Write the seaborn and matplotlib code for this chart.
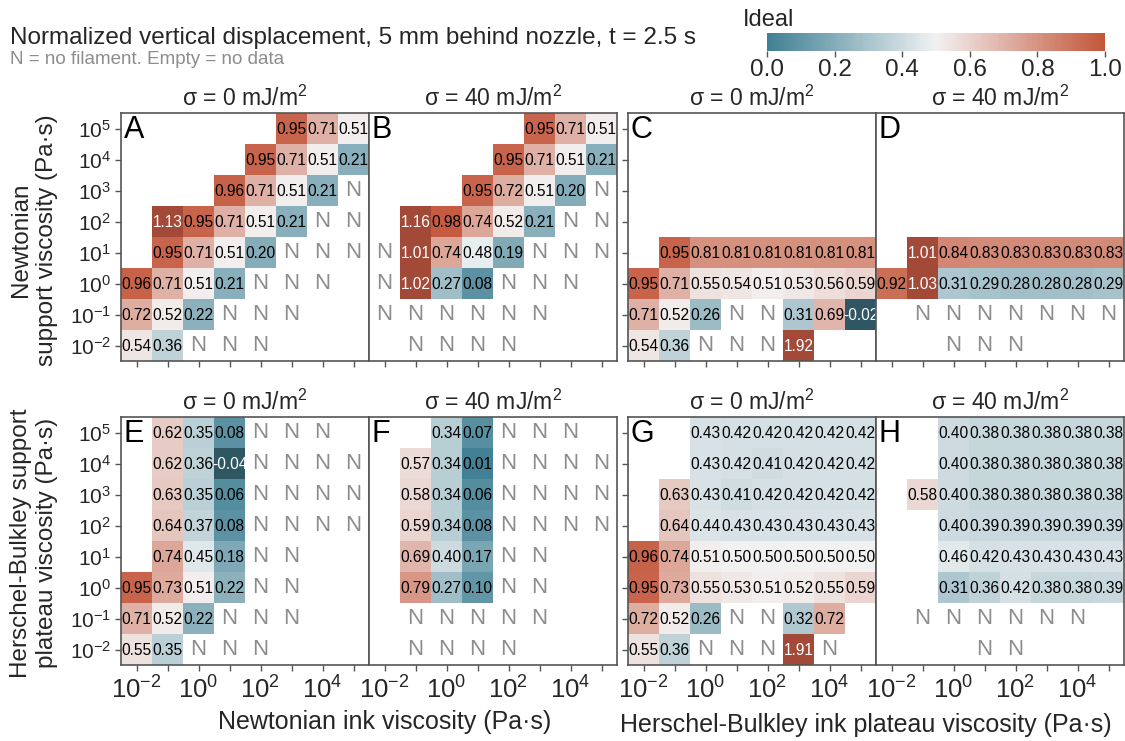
import numpy as np
import pandas as pd
import matplotlib
matplotlib.use("Agg")
import matplotlib.pyplot as plt
import seaborn as sns

sns.set_style("white")
plt.rcParams['font.family'] = ['Liberation Sans', 'DejaVu Sans']
plt.rcParams['mathtext.fontset'] = 'custom'
plt.rcParams['mathtext.rm'] = 'Liberation Sans'
plt.rcParams['mathtext.it'] = 'Liberation Sans:italic'
plt.rcParams['mathtext.bf'] = 'Liberation Sans:bold'

# _ = no data (empty cell), N = no filament
_ = None
N = "N"

# exponents of the viscosities (Pa·s); rows listed top (1e5) to bottom (1e-2)
support_visc = [5, 4, 3, 2, 1, 0, -1, -2]
ink_visc = [-2, -1, 0, 1, 2, 3, 4, 5]

# --- Newtonian support, Newtonian ink
panel_A = [
    [_, _, _, _, _, 0.95, 0.71, 0.51],
    [_, _, _, _, 0.95, 0.71, 0.51, 0.21],
    [_, _, _, 0.96, 0.71, 0.51, 0.21, N],
    [_, 1.13, 0.95, 0.71, 0.51, 0.21, N, N],
    [_, 0.95, 0.71, 0.51, 0.20, N, N, N],
    [0.96, 0.71, 0.51, 0.21, N, N, N, _],
    [0.72, 0.52, 0.22, N, N, N, _, _],
    [0.54, 0.36, N, N, N, _, _, _],
]
panel_B = [
    [_, _, _, _, _, 0.95, 0.71, 0.51],
    [_, _, _, _, 0.95, 0.71, 0.51, 0.21],
    [_, _, _, 0.95, 0.72, 0.51, 0.20, N],
    [_, 1.16, 0.98, 0.74, 0.52, 0.21, N, N],
    [N, 1.01, 0.74, 0.48, 0.19, N, N, N],
    [N, 1.02, 0.27, 0.08, N, N, N, _],
    [N, N, N, N, N, N, _, _],
    [_, N, N, N, N, _, _, _],
]
# --- Newtonian support, Herschel-Bulkley ink
panel_C = [
    [_, _, _, _, _, _, _, _],
    [_, _, _, _, _, _, _, _],
    [_, _, _, _, _, _, _, _],
    [_, _, _, _, _, _, _, _],
    [_, 0.95, 0.81, 0.81, 0.81, 0.81, 0.81, 0.81],
    [0.95, 0.71, 0.55, 0.54, 0.51, 0.53, 0.56, 0.59],
    [0.71, 0.52, 0.26, N, N, 0.31, 0.69, -0.02],
    [0.54, 0.36, N, N, N, 1.92, _, _],
]
panel_D = [
    [_, _, _, _, _, _, _, _],
    [_, _, _, _, _, _, _, _],
    [_, _, _, _, _, _, _, _],
    [_, _, _, _, _, _, _, _],
    [_, 1.01, 0.84, 0.83, 0.83, 0.83, 0.83, 0.83],
    [0.92, 1.03, 0.31, 0.29, 0.28, 0.28, 0.28, 0.29],
    [_, N, N, N, N, N, N, N],
    [_, _, N, N, N, _, _, _],
]
# --- Herschel-Bulkley support, Newtonian ink
panel_E = [
    [_, 0.62, 0.35, 0.08, N, N, N, _],
    [_, 0.62, 0.36, -0.04, N, N, N, N],
    [_, 0.63, 0.35, 0.06, N, N, N, N],
    [_, 0.64, 0.37, 0.08, N, N, N, N],
    [_, 0.74, 0.45, 0.18, N, N, _, _],
    [0.95, 0.73, 0.51, 0.22, N, N, _, _],
    [0.71, 0.52, 0.22, N, N, N, _, _],
    [0.55, 0.35, N, N, N, _, _, _],
]
panel_F = [
    [_, _, 0.34, 0.07, N, N, N, _],
    [_, 0.57, 0.34, 0.01, N, N, N, N],
    [_, 0.58, 0.34, 0.06, N, N, N, N],
    [_, 0.59, 0.34, 0.08, N, N, N, N],
    [_, 0.69, 0.40, 0.17, N, N, _, _],
    [_, 0.79, 0.27, 0.10, N, N, _, _],
    [_, N, N, N, N, N, _, _],
    [_, N, N, N, N, _, _, _],
]
# --- Herschel-Bulkley support, Herschel-Bulkley ink
panel_G = [
    [_, _, 0.43, 0.42, 0.42, 0.42, 0.42, 0.42],
    [_, _, 0.43, 0.42, 0.41, 0.42, 0.42, 0.42],
    [_, 0.63, 0.43, 0.41, 0.42, 0.42, 0.42, 0.42],
    [_, 0.64, 0.44, 0.43, 0.43, 0.43, 0.43, 0.43],
    [0.96, 0.74, 0.51, 0.50, 0.50, 0.50, 0.50, 0.50],
    [0.95, 0.73, 0.55, 0.53, 0.51, 0.52, 0.55, 0.59],
    [0.72, 0.52, 0.26, N, N, 0.32, 0.72, _],
    [0.55, 0.36, N, N, N, 1.91, N, _],
]
panel_H = [
    [_, _, 0.40, 0.38, 0.38, 0.38, 0.38, 0.38],
    [_, _, 0.40, 0.38, 0.38, 0.38, 0.38, 0.38],
    [_, 0.58, 0.40, 0.38, 0.38, 0.38, 0.38, 0.38],
    [_, _, 0.40, 0.39, 0.39, 0.39, 0.39, 0.39],
    [_, _, 0.46, 0.42, 0.43, 0.43, 0.43, 0.43],
    [_, _, 0.31, 0.36, 0.42, 0.38, 0.38, 0.39],
    [_, N, N, N, N, N, N, _],
    [_, _, _, N, N, _, _, _],
]

panels = [("A", panel_A), ("B", panel_B), ("C", panel_C), ("D", panel_D),
          ("E", panel_E), ("F", panel_F), ("G", panel_G), ("H", panel_H)]
sigma_titles = ["σ = 0 mJ/m$^2$", "σ = 40 mJ/m$^2$"]

cmap = sns.diverging_palette(220, 20, as_cmap=True)
cmap = cmap.with_extremes(over="#a24a37", under="#2e5663")

W, H = 1125, 741
fig = plt.figure(figsize=(W / 100, H / 100), dpi=100)


def px_axes(x0, y0, w, h):
    return fig.add_axes([x0 / W, 1 - (y0 + h) / H, w / W, h / H])


col_left = [121, 369, 628, 876]
row_top = [113, 417]
size = 248
edge = "#555555"

for k, (letter, grid) in enumerate(panels):
    r, c = divmod(k, 4)
    ax = px_axes(col_left[c], row_top[r], size, size)
    vals = np.array([[v if isinstance(v, float) else np.nan for v in row] for row in grid], dtype=float)
    df = pd.DataFrame(vals, index=support_visc, columns=ink_visc)
    sns.heatmap(df, ax=ax, cmap=cmap, vmin=0, vmax=1, cbar=False,
                xticklabels=False, yticklabels=False)
    for i, row in enumerate(grid):
        for j, v in enumerate(row):
            if v is None:
                continue
            if v == N:
                ax.text(j + 0.5, i + 0.5, "N", ha="center", va="center",
                        color="#8c8c8c", fontsize=16)
            else:
                tc = "white" if (v > 1 or v < 0) else "black"
                ax.text(j + 0.5, i + 0.52, f"{v:.2f}", ha="center", va="center",
                        color=tc, fontsize=11.2)
    for s in ax.spines.values():
        s.set_visible(True)
        s.set_color(edge)
        s.set_linewidth(1.2)
    ax.text(0.012, 0.99, letter, transform=ax.transAxes, ha="left", va="top",
            fontsize=22, color="black")
    ax.set_title(sigma_titles[c % 2], fontsize=16.5, pad=5)

    ax.set_xticks(np.arange(8) + 0.5)
    if r == 1:
        ax.set_xticklabels([f"$10^{{{e}}}$" if e % 2 == 0 else "" for e in ink_visc], fontsize=18.5)
    else:
        ax.set_xticklabels([])
    ax.tick_params(axis="x", bottom=True, length=4, width=1, color=edge, pad=4)

    if c in (0, 2):
        ax.set_yticks(np.arange(8) + 0.5)
        if c == 0:
            ax.set_yticklabels([f"$10^{{{e}}}$" for e in support_visc], fontsize=15, rotation=0)
        else:
            ax.set_yticklabels([])
        ax.tick_params(axis="y", left=True, length=4, width=1, color=edge, pad=3)
    else:
        ax.set_yticks([])
    ax.set_xlabel("")
    ax.set_ylabel("")

# colour bar
cax = px_axes(767, 33, 338, 18)
sm = plt.cm.ScalarMappable(cmap=cmap, norm=plt.Normalize(0, 1))
cb = fig.colorbar(sm, cax=cax, orientation="horizontal", ticks=[0, 0.2, 0.4, 0.6, 0.8, 1.0])
cb.ax.set_xticklabels(["0.0", "0.2", "0.4", "0.6", "0.8", "1.0"], fontsize=17.5)
cb.ax.tick_params(length=4, width=1, color=edge, pad=2)
cb.outline.set_visible(False)
fig.text(743 / W, 1 - 20 / H, "Ideal", fontsize=17, ha="left", va="center")

# figure texts
fig.text(10 / W, 1 - 38 / H, "Normalized vertical displacement, 5 mm behind nozzle, t = 2.5 s",
         fontsize=17.5, ha="left", va="center")
fig.text(10 / W, 1 - 60 / H, "N = no filament. Empty = no data",
         fontsize=13.5, ha="left", va="center", color="#8c8c8c")

fig.text(34 / W, 1 - 240 / H, "Newtonian\nsupport viscosity (Pa·s)", rotation=90,
         fontsize=17.5, ha="center", va="center", multialignment="center")
fig.text(34 / W, 1 - 543 / H, "Herschel-Bulkley support\nplateau viscosity (Pa·s)", rotation=90,
         fontsize=17.5, ha="center", va="center", multialignment="center")
fig.text(385 / W, 1 - 722 / H, "Newtonian ink viscosity (Pa·s)",
         fontsize=18, ha="center", va="center")
fig.text(866 / W, 1 - 725 / H, "Herschel-Bulkley ink plateau viscosity (Pa·s)",
         fontsize=18, ha="center", va="center")

fig.savefig("out.png", dpi=100)
